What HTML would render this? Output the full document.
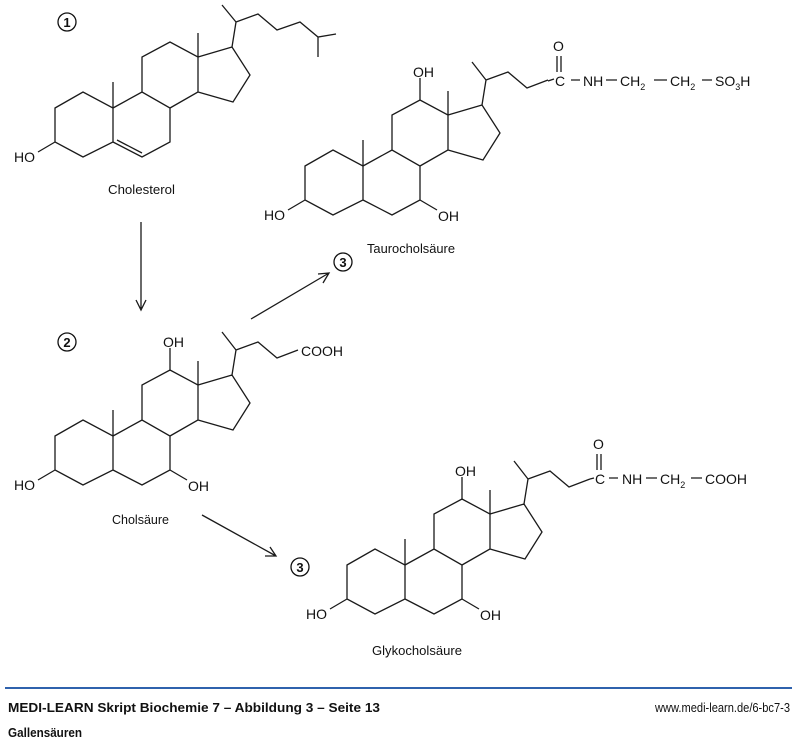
<!DOCTYPE html>
<html><head><meta charset="utf-8"><style>
html,body{margin:0;padding:0;background:#fff;}
svg{display:block;}
.b{fill:none;stroke:#1a1a1a;stroke-width:1.3;stroke-linejoin:miter;}
.t{font-family:"Liberation Sans",Arial,sans-serif;font-size:14px;fill:#111;}
.n{font-family:"Liberation Sans",sans-serif;font-size:13px;fill:#111;}
.s{font-size:9px;}
</style></head><body>
<svg width="800" height="742" viewBox="0 0 800 742" xmlns="http://www.w3.org/2000/svg">
<defs>
<path id="sk" d="M55,436 L83,420 L113,436 L113,470 L83,485 L55,470 Z M113,436 L142,420 L170,436 L170,470 L142,485 L113,470 M142,420 L142,385 L170,370 L198,385 L198,420 L170,436 M198,385 L232,375 L250,403 L233,430 L198,420 M113,436 L113,410 M198,385 L198,361 M38,480 L55,470"/>
<path id="ba" d="M170,370 L170,348 M170,470 L187,480 M232,375 L236,350 L222,332 M236,350 L258,342 L277,358 L298,350"/>
<g id="ohs">
<text class="t" x="14" y="490">HO</text>
<text class="t" x="188" y="491">OH</text>
<text class="t" x="163" y="347">OH</text>
</g>
</defs>

<g transform="translate(0,-328)">
<use href="#sk" class="b"/>
<path class="b" d="M117,468 L142,481 M232,375 L236,350 L222,333 M236,350 L258,342 L277,358 L300,350 L318,365 L336,362 M318,365 L318,385"/>
<text class="t" x="14" y="490">HO</text>
</g>
<circle cx="67" cy="22" r="9" fill="none" stroke="#111" stroke-width="1.3"/>
<text class="n" x="67" y="27" text-anchor="middle" font-weight="bold">1</text>
<text class="n" x="108" y="194" textLength="67" lengthAdjust="spacingAndGlyphs">Cholesterol</text>

<path class="b" d="M141,222 L141,310 M136,300 L141,310 L146,300"/>

<use href="#sk" class="b"/>
<use href="#ba" class="b"/>
<use href="#ohs"/>
<text class="t" x="301" y="356">COOH</text>
<circle cx="67" cy="342" r="9" fill="none" stroke="#111" stroke-width="1.3"/>
<text class="n" x="67" y="347" text-anchor="middle" font-weight="bold">2</text>
<text class="n" x="112" y="524" textLength="57" lengthAdjust="spacingAndGlyphs">Cholsäure</text>

<path class="b" d="M251,319 L329,273 M318,274 L329,273 L323,283"/>
<circle cx="343" cy="262" r="9" fill="none" stroke="#111" stroke-width="1.3"/>
<text class="n" x="343" y="267" text-anchor="middle" font-weight="bold">3</text>
<path class="b" d="M202,515 L276,556 M265,556 L276,556 L270,547"/>
<circle cx="300" cy="567" r="9" fill="none" stroke="#111" stroke-width="1.3"/>
<text class="n" x="300" y="572" text-anchor="middle" font-weight="bold">3</text>

<g transform="translate(250,-270)">
<use href="#sk" class="b"/>
<use href="#ba" class="b"/>
<use href="#ohs"/>
</g>
<path class="b" d="M548,81 L554,79 M557,56 L557,72 M561,56 L561,72 M571,80 L580,80 M606,80 L617,80 M654,80 L667,80 M702,80 L712,80"/>
<text class="t" x="553" y="51">O</text>
<text class="t" x="555" y="86">C</text>
<text class="t" x="583" y="86">NH</text>
<text class="t" x="620" y="86">CH<tspan class="s" dy="4">2</tspan></text>
<text class="t" x="670" y="86">CH<tspan class="s" dy="4">2</tspan></text>
<text class="t" x="715" y="86">SO<tspan class="s" dy="4">3</tspan><tspan dy="-4">H</tspan></text>
<text class="n" x="367" y="253" textLength="88" lengthAdjust="spacingAndGlyphs">Taurocholsäure</text>

<g transform="translate(292,129)">
<use href="#sk" class="b"/>
<use href="#ba" class="b"/>
<use href="#ohs"/>
</g>
<path class="b" d="M590,479 L594,478 M597,454 L597,470 M601,454 L601,470 M609,478 L618,478 M646,478 L657,478 M691,478 L702,478"/>
<text class="t" x="593" y="449">O</text>
<text class="t" x="595" y="484">C</text>
<text class="t" x="622" y="484">NH</text>
<text class="t" x="660" y="484">CH<tspan class="s" dy="4">2</tspan></text>
<text class="t" x="705" y="484">COOH</text>
<text class="n" x="372" y="655" textLength="90" lengthAdjust="spacingAndGlyphs">Glykocholsäure</text>

<rect x="5" y="687" width="787" height="2" fill="#2f62ad"/>
<text class="n" x="8" y="712" font-weight="bold" font-size="14" textLength="372" lengthAdjust="spacingAndGlyphs">MEDI-LEARN Skript Biochemie 7 – Abbildung 3 – Seite 13</text>
<text class="n" x="655" y="712" font-size="12" textLength="135" lengthAdjust="spacingAndGlyphs">www.medi-learn.de/6-bc7-3</text>
<text class="n" x="8" y="737" font-weight="bold" font-size="14" textLength="74" lengthAdjust="spacingAndGlyphs">Gallensäuren</text>
</svg>
</body></html>
